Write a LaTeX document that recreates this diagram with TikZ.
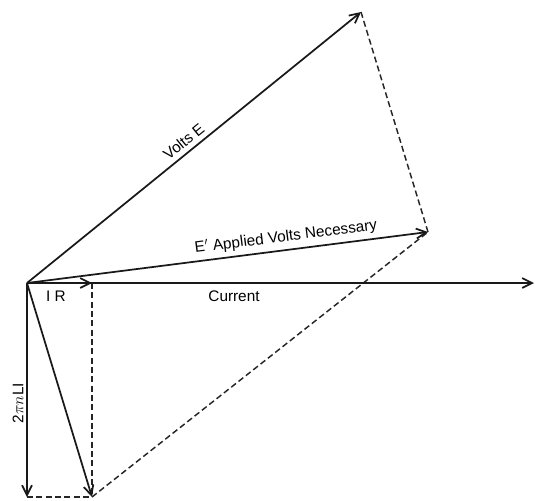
\documentclass[tikz,border=0pt]{standalone}
\usepackage{fontspec}
\setsansfont{Liberation Sans}
\usetikzlibrary{arrows.meta}

\begin{document}
\begin{tikzpicture}[x=0.75pt,y=-0.75pt,
  vec/.style={draw=black!90,line width=1.3pt,
    -{Straight Barb[length=2.6mm,width=2.6mm]}},
  proj/.style={draw=black!85,line width=1.1pt,dash pattern=on 4.5pt off 2.5pt},
  label/.style={font=\sffamily\fontsize{11.5}{13}\selectfont,inner sep=1pt}]

\useasboundingbox (0,0) rectangle (535,500);

% Vector end points.
\coordinate (O) at (27,283);
\coordinate (IR) at (92,283);
\coordinate (cur) at (534,283);
\coordinate (LI) at (27,497);
\coordinate (Z) at (92,497);
\coordinate (Ep) at (428,232);
\coordinate (E) at (361,12);

% Construction lines of the parallelograms.
\draw[proj] (IR) -- (Z);
\draw[proj] (LI) -- (Z);
\draw[proj] (Z) -- (Ep);
\draw[proj] (E) -- (Ep);

% Vectors from the origin.
\draw[vec] (O) -- (cur);
\draw[vec] (O) -- (IR);
\draw[vec] (O) -- (LI);
\draw[vec] (O) -- (Z);
\draw[vec] (O) -- (Ep);
\draw[vec] (O) -- (E);

% Labels.
\path (O) -- (E) node[label,sloped,above=3pt,pos=.49] (lE) {Volts E};
\path (O) -- (Ep) node[label,sloped,above=3pt,pos=.65] (lEp)
  {E$'$ Applied Volts Necessary};
\node[label] (lcur) at (234,296) {Current};
\node[label] (lIR) at (56,296) {I R};
\node[label,rotate=90] (lLI) at (18,403) {2$\pi n$LI};
\end{tikzpicture}
\end{document}
